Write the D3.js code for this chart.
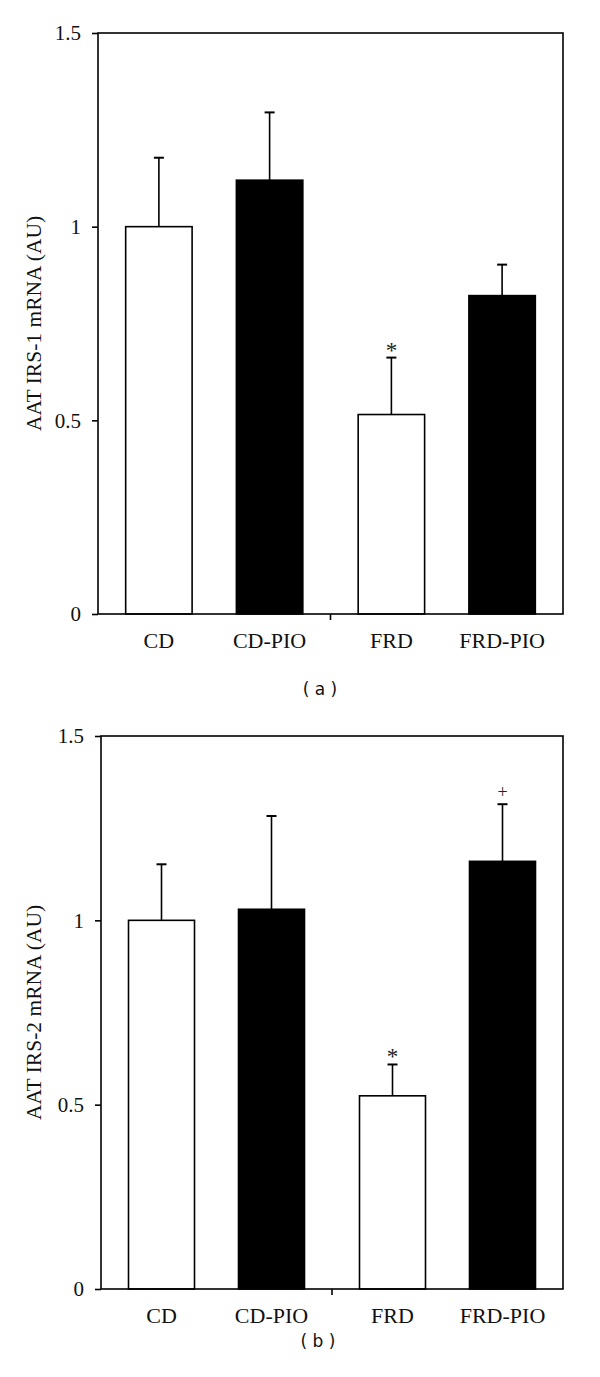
<!DOCTYPE html>
<html>
<head>
<meta charset="utf-8">
<script src="https://cdn.jsdelivr.net/npm/d3@7"></script>
<style>
  html, body { margin: 0; padding: 0; background: #fff; }
  svg { display: block; }
</style>
</head>
<body>
<script>
// ---- data ----
const categories = ["CD", "CD-PIO", "FRD", "FRD-PIO"];
const groups = ["CD", "FRD"];
const barFills = ["white", "black", "white", "black"];
const yTicks = [0, 0.5, 1, 1.5];
const yTickLabels = ["0", "0.5", "1", "1.5"];

const irs1Mean = [1.00, 1.12, 0.515, 0.822];
const irs1Err  = [0.178, 0.175, 0.147, 0.080];
const irs1Marks = ["", "", "*", ""];

const irs2Mean = [1.00, 1.03, 0.524, 1.16];
const irs2Err  = [0.152, 0.253, 0.085, 0.155];
const irs2Marks = ["", "", "*", "+"];

const W = 600, H = 1377;
const svg = d3.select("body").append("svg").attr("width", W).attr("height", H);

function panel(cfg) {
  const g = svg.append("g");
  const { left, right, top, bottom } = cfg;
  const y = d3.scaleLinear().domain([0, 1.5]).range([bottom, top]);
  const outer = d3.scaleBand().domain(groups).range([left, right]).padding(0);
  const inner = d3.scaleBand().domain([0, 1]).range([0, outer.bandwidth()])
    .paddingInner(0.4).paddingOuter(0.25);
  const xPos = i => outer(groups[Math.floor(i / 2)]) + inner(i % 2);
  const bw = inner.bandwidth();

  const data = categories.map((c, i) => ({
    c, i, mean: cfg.mean[i], err: cfg.err[i], mark: cfg.marks[i], fill: barFills[i]
  }));

  // bars
  g.selectAll("rect.bar").data(data).enter().append("rect")
    .attr("class", "bar")
    .attr("x", d => xPos(d.i))
    .attr("y", d => y(d.mean))
    .attr("width", bw)
    .attr("height", d => y(0) - y(d.mean))
    .attr("fill", d => d.fill)
    .attr("stroke", "#000")
    .attr("stroke-width", 1.6);

  // error bars (upper only)
  const cap = 5;
  g.selectAll("line.err").data(data).enter().append("line")
    .attr("x1", d => xPos(d.i) + bw / 2).attr("x2", d => xPos(d.i) + bw / 2)
    .attr("y1", d => y(d.mean)).attr("y2", d => y(d.mean + d.err))
    .attr("stroke", "#000").attr("stroke-width", 1.6);
  g.selectAll("line.cap").data(data).enter().append("line")
    .attr("x1", d => xPos(d.i) + bw / 2 - cap).attr("x2", d => xPos(d.i) + bw / 2 + cap)
    .attr("y1", d => y(d.mean + d.err)).attr("y2", d => y(d.mean + d.err))
    .attr("stroke", "#000").attr("stroke-width", 2);

  // significance marks
  g.selectAll("text.mark").data(data.filter(d => d.mark)).enter().append("text")
    .attr("x", d => xPos(d.i) + bw / 2)
    .attr("y", d => y(d.mean + d.err) - (d.mark === "*" ? 0 : 6))
    .attr("text-anchor", "middle")
    .attr("font-family", "Liberation Serif, serif")
    .attr("font-size", d => d.mark === "*" ? 23 : 18)
    .attr("fill", "#222")
    .text(d => d.mark);

  // frame
  g.append("rect")
    .attr("x", left).attr("y", top)
    .attr("width", right - left).attr("height", bottom - top)
    .attr("fill", "none").attr("stroke", "#000").attr("stroke-width", 1.6);

  // y axis
  const ax = g.append("g").attr("transform", `translate(${left},0)`)
    .call(d3.axisLeft(y).tickValues(yTicks)
      .tickFormat((d, i) => yTickLabels[i]).tickSize(6).tickPadding(11));
  ax.select(".domain").remove();
  ax.selectAll(".tick line").attr("stroke", "#000").attr("stroke-width", 1.6);
  ax.selectAll(".tick text").attr("font-family", "Liberation Serif, serif")
    .attr("font-size", 21).attr("fill", "#111");

  // group separator tick
  const mid = outer(groups[1]);
  g.append("line").attr("x1", mid).attr("x2", mid)
    .attr("y1", bottom).attr("y2", bottom + 6)
    .attr("stroke", "#000").attr("stroke-width", 1.6);

  // category labels
  g.selectAll("text.cat").data(data).enter().append("text")
    .attr("x", d => xPos(d.i) + bw / 2)
    .attr("y", bottom + 34)
    .attr("text-anchor", "middle")
    .attr("font-family", "Liberation Serif, serif")
    .attr("font-size", 22)
    .attr("fill", "#111")
    .text(d => d.c);

  // y label
  g.append("text")
    .attr("transform", `translate(${cfg.labelX},${(top + bottom) / 2}) rotate(-90)`)
    .attr("text-anchor", "middle")
    .attr("dominant-baseline", "central")
    .attr("font-family", "Liberation Serif, serif")
    .attr("font-size", 21.5)
    .attr("fill", "#111")
    .text(cfg.ylabel);

  // panel caption
  g.append("text")
    .attr("x", cfg.capX).attr("y", cfg.capY)
    .attr("text-anchor", "middle")
    .attr("dominant-baseline", "central")
    .attr("font-family", "DejaVu Sans, sans-serif")
    .attr("font-size", 17)
    .attr("fill", "#111")
    .text(cfg.caption);
}

panel({ left: 98, right: 563, top: 33, bottom: 614, mean: irs1Mean, err: irs1Err,
  marks: irs1Marks, ylabel: "AAT IRS-1 mRNA (AU)", labelX: 34,
  caption: "( a )", capX: 320, capY: 689 });
panel({ left: 101, right: 563, top: 736, bottom: 1289, mean: irs2Mean, err: irs2Err,
  marks: irs2Marks, ylabel: "AAT IRS-2 mRNA (AU)", labelX: 34,
  caption: "( b )", capX: 318, capY: 1341 });
</script>
</body>
</html>
